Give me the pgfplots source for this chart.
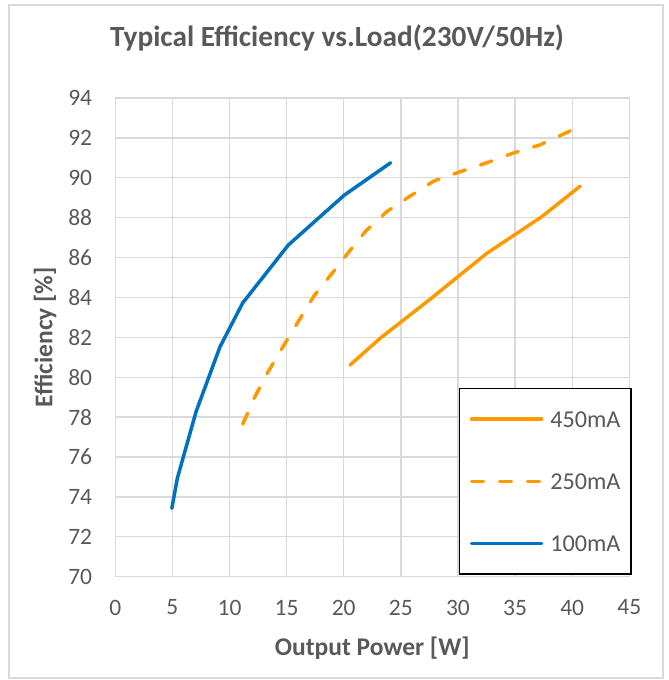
\documentclass[border=0pt]{standalone}
\usepackage{fontspec}
\setmainfont{Carlito}
\usepackage{pgfplots}
\pgfplotsset{compat=1.18}
\definecolor{lorange}{RGB}{255,153,0}
\definecolor{lblue}{RGB}{0,112,192}
\definecolor{txtgray}{RGB}{89,89,89}
\definecolor{gridgray}{RGB}{217,217,217}
\begin{document}
\begin{tikzpicture}
\useasboundingbox (-115.3pt,-103.3pt) rectangle (553.7pt,576.7pt);
\draw[gridgray, line width=1.3pt] (-106.3pt,-101.3pt) rectangle (547.7pt,571.7pt);
\begin{axis}[
    scale only axis,
    width=514pt, height=478.7pt,
    xmin=0, xmax=45, ymin=70, ymax=94,
    xtick={0,5,...,45},
    ytick={70,72,...,94},
    grid=major,
    grid style={gridgray, line width=1.3pt},
    axis line style={gridgray, line width=1.3pt},
    major tick length=0pt,
    tick style={draw=none},
    /pgf/number format/assume math mode=true,
    tick label style={font=\fontsize{23.5}{28}\selectfont, text=txtgray},
    xticklabel style={inner sep=0pt, yshift=-23pt},
    yticklabel style={inner sep=0pt, xshift=-23pt},
    label style={font=\bfseries\fontsize{25.5}{30}\selectfont, text=txtgray},
    xlabel={Output Power [W]},
    xlabel style={at={(axis description cs:0.5,-0.1636)}, anchor=base, inner sep=0pt},
    ylabel={Efficiency [\%]},
    ylabel style={at={(axis description cs:-0.1368,0.5)}, anchor=center, inner sep=0pt},
    title={Typical Efficiency vs.Load(230V/50Hz)},
    title style={at={(axis description cs:0.4313,1.0955)}, anchor=base, inner sep=0pt, yshift=0pt,
                 font=\bfseries\fontsize{29.3}{34}\selectfont, text=txtgray},
    legend style={at={(axis description cs:1.0047,0.0036)}, anchor=south east,
                  draw=black, line width=1.5pt, fill=white,
                  inner xsep=10.5pt, inner ysep=22.6pt, row sep=46.3pt,
                  font=\fontsize{24.2}{28}\selectfont, text=txtgray,
                  nodes={inner sep=0pt, text height=16pt, text depth=0pt},
                  cells={anchor=west},
                  /tikz/every odd column/.append style={column sep=7pt}},
    legend image code/.code={\draw[#1] (0pt,0pt) -- (70pt,0pt);},
    every axis plot/.append style={line width=3.5pt, line join=round, line cap=round},
]
% 450mA
\addplot[lorange] coordinates {
    (20.55,80.61) (23.18,81.95) (27.56,83.91) (32.52,86.21) (37.34,88.05) (40.70,89.58)
};
\addlegendentry{450mA}
% 250mA
\addplot[lorange, dash pattern=on 12pt off 16pt] coordinates {
    (11.16,77.65) (12.15,78.94) (13.26,80.16) (15.15,81.98) (17.40,84.08) (18.95,85.19)
    (20.46,86.29) (21.93,87.33) (23.76,88.30) (25.80,89.08) (27.90,89.84) (30.18,90.30)
    (32.52,90.75) (34.85,91.24) (37.19,91.65) (39.87,92.36)
};
\addlegendentry{250mA}
% 100mA
\addplot[lblue] coordinates {
    (4.95,73.43) (5.43,74.93) (7.07,78.27) (9.17,81.53) (11.16,83.73) (15.15,86.63)
    (20.05,89.13) (24.10,90.75)
};
\addlegendentry{100mA}
\end{axis}
\end{tikzpicture}
\end{document}
